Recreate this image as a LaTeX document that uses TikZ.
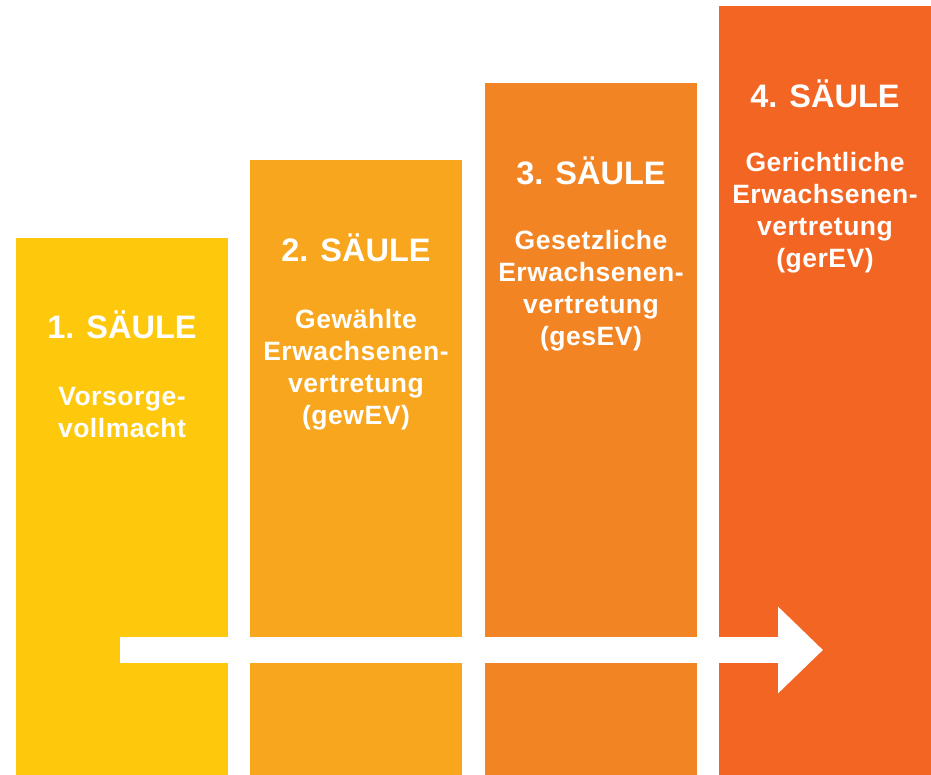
\documentclass[tikz,border=0pt]{standalone}
\usepackage{fontspec}
\setmainfont{Liberation Sans}
\usepackage{tikz}
\usetikzlibrary{arrows.meta}
\definecolor{saulegelb}{RGB}{254,200,12}
\definecolor{sauleorange}{RGB}{247,166,30}
\definecolor{saulehell}{RGB}{243,132,36}
\definecolor{sauledunkel}{RGB}{242,101,34}

\tikzset{
  saule/.style={anchor=south west, minimum width=212pt, inner sep=0pt, outer sep=0pt},
  titel/.style={anchor=base, text=white, inner sep=0pt, font=\fontsize{32.5}{39}\selectfont\bfseries},
  inhalt/.style={anchor=base, text=white, inner sep=0pt, align=center,
    font=\fontsize{26.5}{32}\selectfont\bfseries\addfontfeature{LetterSpace=2}}
}

\begin{document}
\begin{tikzpicture}[x=1pt, y=1pt]
\useasboundingbox (0,0) rectangle (931,775);
\node[saule, fill=saulegelb, minimum height=537pt] (s1) at (16,0) {};
\node[saule, fill=sauleorange, minimum height=615pt] (s2) at (250,0) {};
\node[saule, fill=saulehell, minimum height=692pt] (s3) at (485,0) {};
\node[saule, fill=sauledunkel, minimum height=769pt] (s4) at (719,0) {};
% anchor=base sits on the last line
\node[titel] (t1) at ([yshift=-101pt] s1.north) {1. SÄULE};
\node[inhalt] (i1) at ([yshift=-200pt] s1.north) {Vorsorge-\\vollmacht};
\node[titel] (t2) at ([yshift=-102pt] s2.north) {2. SÄULE};
\node[inhalt] (i2) at ([yshift=-265pt] s2.north) {Gewählte\\Erwachsenen-\\vertretung\\(gewEV)};
\node[titel] (t3) at ([yshift=-102pt] s3.north) {3. SÄULE};
\node[inhalt] (i3) at ([yshift=-263pt] s3.north) {Gesetzliche\\Erwachsenen-\\vertretung\\(gesEV)};
\node[titel] (t4) at ([yshift=-102pt] s4.north) {4. SÄULE};
\node[inhalt] (i4) at ([yshift=-262pt] s4.north) {Gerichtliche\\Erwachsenen-\\vertretung\\(gerEV)};
\coordinate (start) at (120,125);
\coordinate (ziel) at (823,125);
\draw[white, line width=26.5pt, -{Triangle[length=45pt, width=84pt]}] (start) -- (ziel);
\end{tikzpicture}
\end{document}
